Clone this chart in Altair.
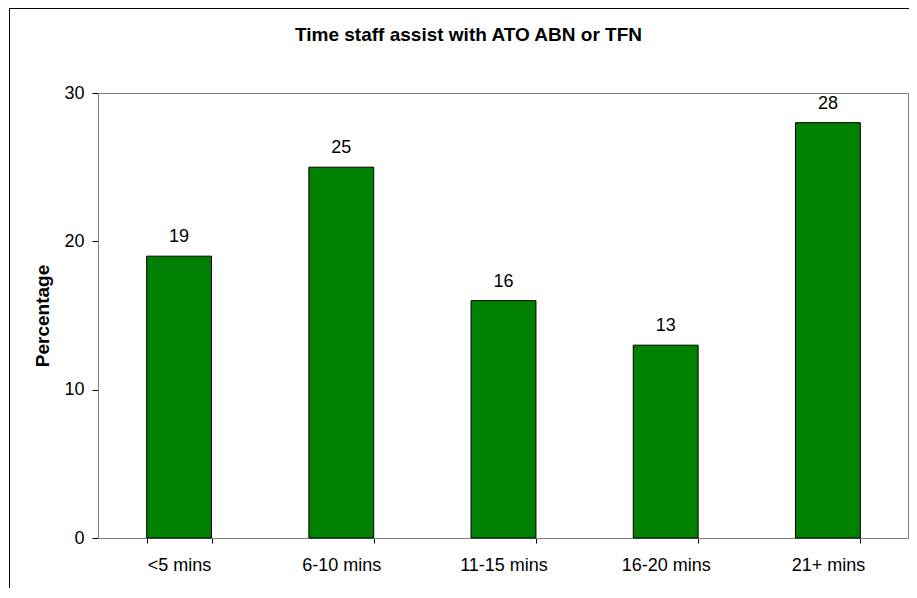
import altair as alt
import pandas as pd

categories = ["<5 mins", "6-10 mins", "11-15 mins", "16-20 mins", "21+ mins"]
values = [19, 25, 16, 13, 28]
y_ticks = [0, 10, 20, 30]

df = pd.DataFrame({"cat": categories, "val": values})

FONT = "Liberation Sans"
W, H = 811, 445

x_enc = alt.X(
    "cat:N",
    sort=categories,
    scale=alt.Scale(paddingInner=0.6, paddingOuter=0.3),
    axis=alt.Axis(
        title=None,
        labelAngle=0,
        tickBand="extent",
        tickSize=5,
        tickColor="black",
        domainColor="black",
        labelFont=FONT,
        labelFontSize=18,
        labelColor="black",
        labelPadding=13,
    ),
)
y_enc = alt.Y(
    "val:Q",
    scale=alt.Scale(domain=[0, 30]),
    axis=alt.Axis(
        title="Percentage",
        values=y_ticks,
        grid=False,
        tickSize=6,
        tickColor="black",
        domainColor="black",
        labelFont=FONT,
        labelFontSize=18,
        labelColor="black",
        labelPadding=8,
        titleFont=FONT,
        titleFontSize=19,
        titleFontWeight="bold",
        titleColor="black",
        titlePadding=11,
    ),
)

base = alt.Chart(df)

bars = base.mark_bar(color="#008000", stroke="black", strokeWidth=1).encode(
    x=x_enc, y=y_enc
)
labels = base.mark_text(
    font=FONT, fontSize=18, color="black", baseline="alphabetic", dy=-14
).encode(x=alt.X("cat:N", sort=categories), y="val:Q", text="val:Q")

# outer chart frame
border = base.mark_rect(fillOpacity=0, stroke="black", strokeWidth=1).encode(
    x=alt.value(-88.5), x2=alt.value(2000), y=alt.value(-84.5), y2=alt.value(2000)
)
# plot-area frame (crisp grey)
frame = base.mark_rect(fillOpacity=0, stroke="#808080", strokeWidth=1).encode(
    x=alt.value(0.5), x2=alt.value(W - 0.5), y=alt.value(0.5), y2=alt.value(H + 0.5)
)

chart = (
    alt.layer(border, frame, bars, labels)
    .properties(
        width=W,
        height=H,
        autosize=alt.AutoSizeParams(type="none"),
        padding={"left": 90, "top": 85, "right": 0, "bottom": 50},
        title=alt.TitleParams(
            "Time staff assist with ATO ABN or TFN",
            font=FONT,
            fontSize=19,
            fontWeight="bold",
            color="black",
            anchor="middle",
            frame="group",
            baseline="alphabetic",
            dx=-35,
            offset=-52,
        ),
    )
    .configure_view(strokeWidth=0)
    .configure(background="white")
)

chart.save("out.html", embed_options={"renderer": "svg", "actions": False})
